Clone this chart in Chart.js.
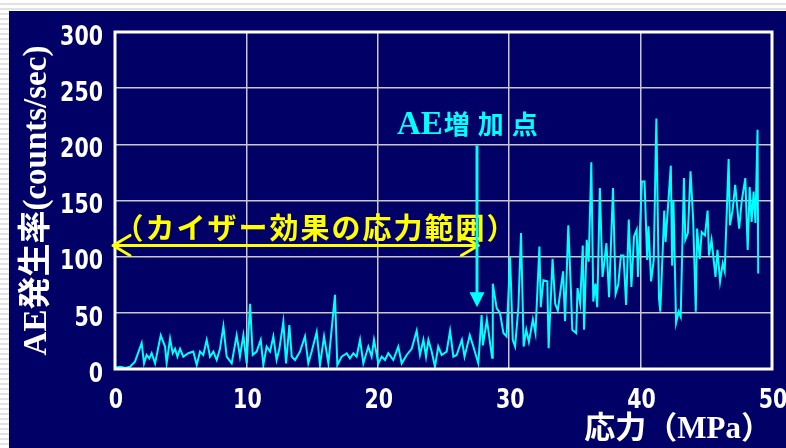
<!DOCTYPE html>
<html>
<head>
<meta charset="utf-8">
<script src="https://cdn.jsdelivr.net/npm/chart.js@4.4.1/dist/chart.umd.min.js"></script>
<style>
  html, body {
    margin: 0; padding: 0; width: 786px; height: 448px; overflow: hidden;
    background: repeating-linear-gradient(to bottom, #ffffff 0px, #ffffff 3px, #e2e2e2 3px, #e2e2e2 5px);
  }
  #panel { position: absolute; left: 9px; top: 11px; width: 777px; height: 437px; background: #000066; }
  canvas { display: block; }
</style>
</head>
<body>
<div id="panel"><canvas id="chart" width="777" height="437"></canvas></div>
<script>
// Stress (MPa) at each sample
const stress = [
  0.0, 0.38, 0.8, 1.14, 1.52, 2.03, 2.21, 2.41, 2.61, 2.79, 3.05, 3.48, 3.81, 3.93, 4.19, 4.39, 4.57, 4.75, 4.95, 5.2,
  5.58, 5.96, 6.22, 6.47, 6.72, 6.98, 7.23, 7.49, 7.74, 7.99, 8.25, 8.5, 8.88, 9.26, 9.51, 9.77, 10.02, 10.28, 10.48, 10.78,
  11.09, 11.29, 11.54, 11.8, 12.05, 12.3, 12.51, 12.81, 13.02, 13.27, 13.45, 13.7, 14.08, 14.46, 14.71, 14.97, 15.35, 15.6, 15.91, 16.24,
  16.74, 16.92, 17.25, 17.63, 17.88, 18.14, 18.39, 18.65, 18.9, 19.28, 19.53, 19.71, 20.04, 20.3, 20.55, 20.8, 21.18, 21.56, 21.82, 22.2,
  22.58, 22.96, 23.21, 23.47, 23.67, 23.85, 24.1, 24.35, 24.6, 24.86, 25.24, 25.5, 25.75, 26.0, 26.4, 26.6, 27.0, 27.27, 27.65, 27.9,
  28.0, 28.3, 28.7, 28.75, 29.05, 29.3, 29.56, 29.8, 30.07, 30.27, 30.45, 30.7, 30.9, 31.1, 31.3, 31.5, 31.8, 32.0, 32.3, 32.4,
  32.6, 32.9, 33.0, 33.3, 33.5, 33.7, 34.1, 34.25, 34.5, 34.7, 34.8, 35.1, 35.2, 35.4, 35.6, 35.7, 35.9, 36.05, 36.25, 36.4,
  36.56, 36.7, 36.9, 37.1, 37.2, 37.4, 37.6, 37.9, 38.1, 38.3, 38.5, 38.7, 38.9, 39.1, 39.3, 39.5, 39.7, 39.8, 40.1, 40.3,
  40.5, 40.6, 40.8, 41.0, 41.2, 41.4, 41.5, 41.8, 41.9, 42.1, 42.3, 42.4, 42.5, 42.7, 42.9, 43.05, 43.3, 43.4, 43.6, 43.8,
  44.0, 44.2, 44.3, 44.5, 44.65, 44.9, 45.1, 45.2, 45.4, 45.7, 45.85, 46.05, 46.25, 46.4, 46.7, 46.8, 47.0, 47.2, 47.5, 47.7,
  47.97, 48.15, 48.3, 48.45, 48.6, 48.74, 48.9, 48.95
];

// AE event rate (counts/sec) at each sample
const rate = [
  1, 2, 1, 2, 6.5, 23, 5, 12.5, 9.5, 14, 5, 30, 20, 5, 27, 14, 18, 11, 18, 11,
  14, 15.5, 3.5, 15.5, 12.5, 26, 11, 15.5, 8, 18, 38, 11, 5, 30, 11, 30, 5, 58, 12.5, 15.5,
  26, 3.5, 20, 15.5, 29, 8, 18, 42, 5, 39, 11, 8, 15.5, 29, 5, 15.5, 33, 3.5, 29, 5,
  66, 3.5, 11, 14, 9.5, 14, 11, 26, 5, 20, 11, 26, 5, 11, 8, 14, 8, 20, 5, 12.5,
  18, 34, 12.5, 26, 11, 26, 15.5, 2, 20, 12.5, 15.5, 34, 11, 12.5, 26, 11, 30, 20, 5, 48,
  21, 44, 10, 76, 54, 50, 32, 29, 100, 26, 20, 55, 121, 20, 35, 24, 44, 32, 109, 55,
  79, 78, 18.5, 98, 58, 52, 87, 42.6, 128, 69, 35, 32, 72, 58, 110, 35, 115, 95.5, 184, 60,
  76, 55, 161, 82, 91, 112, 64, 161, 67, 75, 101, 101, 57, 133, 73, 118, 124, 82, 167, 167,
  97, 127, 78, 97, 223, 63, 51, 141, 113, 147, 181, 92, 150, 41, 51, 46.5, 170, 115, 121, 176,
  133, 51, 125, 98, 122, 119, 141, 101, 115, 82, 106, 78, 94, 87, 187, 128, 141, 164, 125, 150,
  170, 106, 162, 131, 158, 130, 213, 85
];

const xTicks = [0, 10, 20, 30, 40, 50];
const yTicks = [0, 50, 100, 150, 200, 250, 300];

// Annotation values
const kaiserLabel = '（カイザー効果の応力範囲）';
const kaiserRange = [-0.15, 27.65];   // stress span of the Kaiser-effect arrow
const kaiserArrowRate = 110;
const kaiserLabelAt = [15.3, 125.5];
const onsetLabel = ['AE', '増加点'];
const onsetStress = 27.55;            // AE increase point
const onsetArrowFrom = 199;
const onsetArrowTo = 55;
const onsetLabelAt = [21.46, 220];

const tickFont = "bold 26px 'DejaVu Sans', sans-serif";
const titleFamily = "'Liberation Serif','Noto Sans CJK JP',serif";

// narrow tick labels: the bold face squeezed horizontally
function narrowText(ctx, text, cx, cy, align) {
  ctx.save();
  ctx.translate(cx, cy);
  ctx.scale(0.79, 1);
  ctx.textAlign = align;
  ctx.textBaseline = 'middle';
  ctx.fillText(text, 0, 0);
  ctx.restore();
}

const annotations = {
  id: 'annotations',
  afterDatasetsDraw(chart) {
    const { ctx, chartArea: a, scales: { x, y } } = chart;
    ctx.save();

    // white frame around the plot
    ctx.strokeStyle = '#ffffff';
    ctx.lineWidth = 3;
    ctx.strokeRect(a.left, a.top, a.right - a.left, a.bottom - a.top);

    // tick labels
    ctx.fillStyle = '#ffffff';
    ctx.font = tickFont;
    yTicks.forEach(v => narrowText(ctx, String(v), a.left - 12, y.getPixelForValue(v) + 6, 'right'));
    xTicks.forEach(v => narrowText(ctx, String(v), x.getPixelForValue(v) + 1, a.bottom + 32, 'center'));

    // yellow double-headed arrow
    const yy = y.getPixelForValue(kaiserArrowRate);
    const xl = x.getPixelForValue(kaiserRange[0]);
    const xr = x.getPixelForValue(kaiserRange[1]);
    ctx.strokeStyle = '#ffff00';
    ctx.lineWidth = 3;
    ctx.lineCap = 'round';
    ctx.lineJoin = 'round';
    ctx.beginPath();
    ctx.moveTo(xl, yy); ctx.lineTo(xr, yy);
    ctx.moveTo(xl + 17, yy - 10); ctx.lineTo(xl, yy); ctx.lineTo(xl + 17, yy + 10);
    ctx.moveTo(xr - 17, yy - 10); ctx.lineTo(xr, yy); ctx.lineTo(xr - 17, yy + 10);
    ctx.stroke();

    ctx.fillStyle = '#ffff00';
    ctx.font = "bold 29px 'Noto Sans CJK JP'";
    ctx.letterSpacing = '2px';
    ctx.textAlign = 'center';
    ctx.textBaseline = 'middle';
    ctx.fillText(kaiserLabel, x.getPixelForValue(kaiserLabelAt[0]), y.getPixelForValue(kaiserLabelAt[1]));
    ctx.letterSpacing = '0px';

    // cyan arrow to the AE increase point
    const xa = x.getPixelForValue(onsetStress);
    const y0 = y.getPixelForValue(onsetArrowFrom);
    const y1 = y.getPixelForValue(onsetArrowTo);
    ctx.strokeStyle = '#00ffff';
    ctx.fillStyle = '#00ffff';
    ctx.lineWidth = 3;
    ctx.lineCap = 'butt';
    ctx.beginPath();
    ctx.moveTo(xa, y0); ctx.lineTo(xa, y1 - 12);
    ctx.stroke();
    ctx.beginPath();
    ctx.moveTo(xa, y1); ctx.lineTo(xa - 7.5, y1 - 15); ctx.lineTo(xa + 7.5, y1 - 15);
    ctx.closePath();
    ctx.fill();

    // "AE増加点" label
    const lx = x.getPixelForValue(onsetLabelAt[0]);
    const ly = y.getPixelForValue(onsetLabelAt[1]);
    ctx.textAlign = 'left';
    ctx.textBaseline = 'alphabetic';
    ctx.font = "bold 33px 'Liberation Serif'";
    ctx.fillText(onsetLabel[0], lx, ly + 12);
    const w = ctx.measureText(onsetLabel[0]).width;
    ctx.font = "bold 26px 'Noto Sans CJK JP'";
    ctx.letterSpacing = '8px';
    ctx.fillText(onsetLabel[1], lx + w + 1, ly + 12);
    ctx.restore();
  }
};

new Chart(document.getElementById('chart'), {
  type: 'line',
  data: {
    datasets: [{
      data: stress.map((s, i) => ({ x: s, y: rate[i] })),
      borderColor: '#00ffff',
      borderWidth: 2,
      pointRadius: 0,
      tension: 0,
      fill: false
    }]
  },
  options: {
    responsive: false,
    animation: false,
    devicePixelRatio: 1,
    layout: { padding: { left: 0, right: 14, top: 21, bottom: 0 } },
    plugins: { legend: { display: false }, tooltip: { enabled: false } },
    scales: {
      x: {
        type: 'linear', min: 0, max: 50,
        afterBuildTicks: s => { s.ticks = xTicks.map(v => ({ value: v })); },
        afterFit: s => { s.height = 79; s.paddingLeft = 0; s.paddingRight = 0; },
        grid: { color: '#c8c8c8', lineWidth: 1.5, drawTicks: false },
        border: { display: false },
        ticks: { display: false },
        title: {
          display: true, text: '応力（MPa）', align: 'end', color: '#ffffff',
          font: { family: titleFamily, size: 31, weight: 'bold' }, padding: { bottom: -1, top: 0 }
        }
      },
      y: {
        type: 'linear', min: 0, max: 300,
        afterBuildTicks: s => { s.ticks = yTicks.map(v => ({ value: v })); },
        afterFit: s => { s.width = 106; s.paddingTop = 0; s.paddingBottom = 0; },
        grid: { color: '#c8c8c8', lineWidth: 1.5, drawTicks: false },
        border: { display: false },
        ticks: { display: false },
        title: {
          display: true, text: 'AE発生率(counts/sec)', color: '#ffffff',
          font: { family: titleFamily, size: 33, weight: 'bold' }, padding: { top: 9, bottom: 0 }
        }
      }
    }
  },
  plugins: [annotations]
});
</script>
</body>
</html>
